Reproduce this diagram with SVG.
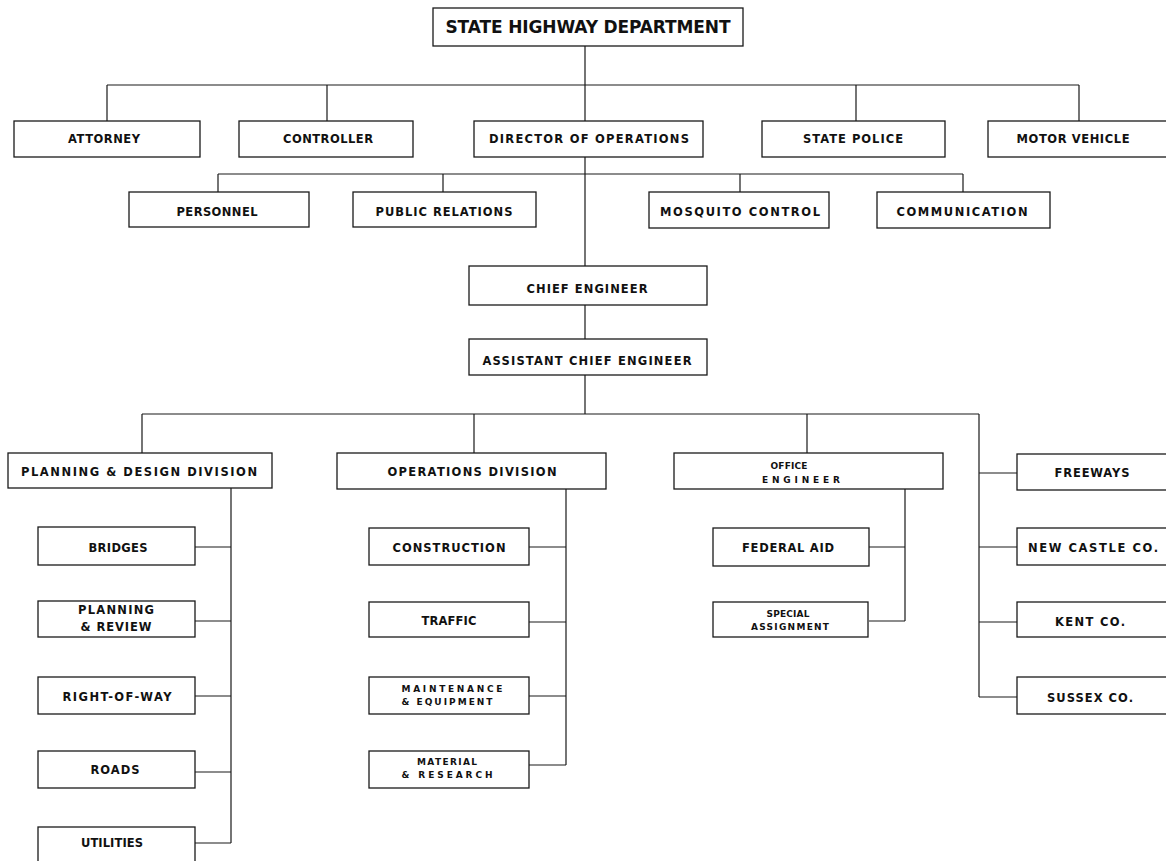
<svg xmlns="http://www.w3.org/2000/svg" width="1166" height="861" viewBox="0 0 1166 861">
<style>
.bx{fill:#fff;stroke:#1a1a1a;stroke-width:1.3}
.ln{fill:none;stroke:#1a1a1a;stroke-width:1.2}
text{font-family:"DejaVu Sans","Liberation Sans",Arial,sans-serif;font-weight:bold;fill:#111;text-anchor:middle}
.t{font-size:11.5px}
.s{font-size:9px}
.h{font-size:17px}
</style>
<rect width="1166" height="861" fill="#fff"/>
<g id="connectors">
<path class="ln" d="M585 46V85M107 85H1079M107 85V121M327 85V121M585 85V121M856 85V121M1079 85V121"/>
<path class="ln" d="M585 157V266M218 174H963M218 174V192M443 174V192M740 174V192M963 174V192"/>
<path class="ln" d="M585 305V339M585 375V414M142 414H979M142 414V453M474 414V453M807 414V453M979 414V697"/>
<path class="ln" d="M979 473H1017M979 547H1017M979 622H1017M979 697H1017"/>
<path class="ln" d="M231 488V843M195 547H231M195 621H231M195 696H231M195 772H231M195 843H231"/>
<path class="ln" d="M566 489V765M529 547H566M529 622H566M529 696H566M529 765H566"/>
<path class="ln" d="M905 489V621M869 547H905M869 621H905"/>
</g>
<g id="n-shd"><rect class="bx" x="433" y="8" width="310" height="38"/><text class="h" x="588" y="33" textLength="285" lengthAdjust="spacing">STATE HIGHWAY DEPARTMENT</text></g>
<g id="n-attorney"><rect class="bx" x="14" y="121" width="186" height="36"/><text class="t" x="104" y="143" textLength="72" lengthAdjust="spacing">ATTORNEY</text></g>
<g id="n-controller"><rect class="bx" x="239" y="121" width="174" height="36"/><text class="t" x="328" y="143" textLength="90" lengthAdjust="spacing">CONTROLLER</text></g>
<g id="n-director"><rect class="bx" x="474" y="121" width="229" height="36"/><text class="t" x="589" y="143" textLength="200" lengthAdjust="spacing">DIRECTOR OF OPERATIONS</text></g>
<g id="n-police"><rect class="bx" x="762" y="121" width="183" height="36"/><text class="t" x="853" y="143" textLength="100" lengthAdjust="spacing">STATE POLICE</text></g>
<g id="n-motor"><rect class="bx" x="988" y="121" width="190" height="36"/><text class="t" x="1073" y="143" textLength="113" lengthAdjust="spacing">MOTOR VEHICLE</text></g>
<g id="n-personnel"><rect class="bx" x="129" y="192" width="180" height="35"/><text class="t" x="217" y="216" textLength="81" lengthAdjust="spacing">PERSONNEL</text></g>
<g id="n-public"><rect class="bx" x="353" y="192" width="183" height="35"/><text class="t" x="444" y="216" textLength="137" lengthAdjust="spacing">PUBLIC RELATIONS</text></g>
<g id="n-mosquito"><rect class="bx" x="649" y="192" width="180" height="36"/><text class="t" x="740" y="216" textLength="160" lengthAdjust="spacing">MOSQUITO CONTROL</text></g>
<g id="n-communication"><rect class="bx" x="877" y="192" width="173" height="36"/><text class="t" x="962" y="216" textLength="131" lengthAdjust="spacing">COMMUNICATION</text></g>
<g id="n-chief"><rect class="bx" x="469" y="266" width="238" height="39"/><text class="t" x="587" y="293" textLength="121" lengthAdjust="spacing">CHIEF ENGINEER</text></g>
<g id="n-assistant"><rect class="bx" x="469" y="339" width="238" height="36"/><text class="t" x="587" y="365" textLength="209" lengthAdjust="spacing">ASSISTANT CHIEF ENGINEER</text></g>
<g id="n-planning"><rect class="bx" x="8" y="453" width="264" height="35"/><text class="t" x="139" y="476" textLength="236" lengthAdjust="spacing">PLANNING &amp; DESIGN DIVISION</text></g>
<g id="n-operations"><rect class="bx" x="337" y="453" width="269" height="36"/><text class="t" x="472" y="476" textLength="169" lengthAdjust="spacing">OPERATIONS DIVISION</text></g>
<g id="n-office"><rect class="bx" x="674" y="453" width="269" height="36"/><text class="s" x="789" y="469" textLength="37" lengthAdjust="spacing">OFFICE</text><text class="s" x="801" y="483" textLength="78" lengthAdjust="spacing">ENGINEER</text></g>
<g id="n-bridges"><rect class="bx" x="38" y="527" width="157" height="38"/><text class="t" x="118" y="552" textLength="59" lengthAdjust="spacing">BRIDGES</text></g>
<g id="n-planrev"><rect class="bx" x="38" y="601" width="157" height="36"/><text class="t" x="116" y="614" textLength="76" lengthAdjust="spacing">PLANNING</text><text class="t" x="116" y="631" textLength="71" lengthAdjust="spacing">&amp; REVIEW</text></g>
<g id="n-row"><rect class="bx" x="38" y="677" width="157" height="37"/><text class="t" x="117" y="701" textLength="109" lengthAdjust="spacing">RIGHT-OF-WAY</text></g>
<g id="n-roads"><rect class="bx" x="38" y="751" width="157" height="37"/><text class="t" x="115" y="774" textLength="49" lengthAdjust="spacing">ROADS</text></g>
<g id="n-utilities"><rect class="bx" x="38" y="827" width="157" height="40"/><text class="t" x="112" y="847" textLength="62" lengthAdjust="spacing">UTILITIES</text></g>
<g id="n-construction"><rect class="bx" x="369" y="528" width="160" height="37"/><text class="t" x="449" y="552" textLength="113" lengthAdjust="spacing">CONSTRUCTION</text></g>
<g id="n-traffic"><rect class="bx" x="369" y="602" width="160" height="35"/><text class="t" x="449" y="625" textLength="55" lengthAdjust="spacing">TRAFFIC</text></g>
<g id="n-maint"><rect class="bx" x="369" y="677" width="160" height="37"/><text class="s" x="452" y="692" textLength="101" lengthAdjust="spacing">MAINTENANCE</text><text class="s" x="447" y="705" textLength="91" lengthAdjust="spacing">&amp; EQUIPMENT</text></g>
<g id="n-material"><rect class="bx" x="369" y="751" width="160" height="37"/><text class="s" x="447" y="765" textLength="60" lengthAdjust="spacing">MATERIAL</text><text class="s" x="447" y="778" textLength="91" lengthAdjust="spacing">&amp; RESEARCH</text></g>
<g id="n-federal"><rect class="bx" x="713" y="528" width="156" height="38"/><text class="t" x="788" y="552" textLength="92" lengthAdjust="spacing">FEDERAL AID</text></g>
<g id="n-special"><rect class="bx" x="713" y="602" width="155" height="35"/><text class="s" x="788" y="617" textLength="43" lengthAdjust="spacing">SPECIAL</text><text class="s" x="790" y="630" textLength="78" lengthAdjust="spacing">ASSIGNMENT</text></g>
<g id="n-freeways"><rect class="bx" x="1017" y="454" width="160" height="36"/><text class="t" x="1092" y="477" textLength="75" lengthAdjust="spacing">FREEWAYS</text></g>
<g id="n-newcastle"><rect class="bx" x="1017" y="528" width="160" height="37"/><text class="t" x="1093" y="552" textLength="130" lengthAdjust="spacing">NEW CASTLE CO.</text></g>
<g id="n-kent"><rect class="bx" x="1017" y="602" width="160" height="35"/><text class="t" x="1090" y="626" textLength="70" lengthAdjust="spacing">KENT CO.</text></g>
<g id="n-sussex"><rect class="bx" x="1017" y="677" width="160" height="37"/><text class="t" x="1090" y="702" textLength="86" lengthAdjust="spacing">SUSSEX CO.</text></g>
</svg>
